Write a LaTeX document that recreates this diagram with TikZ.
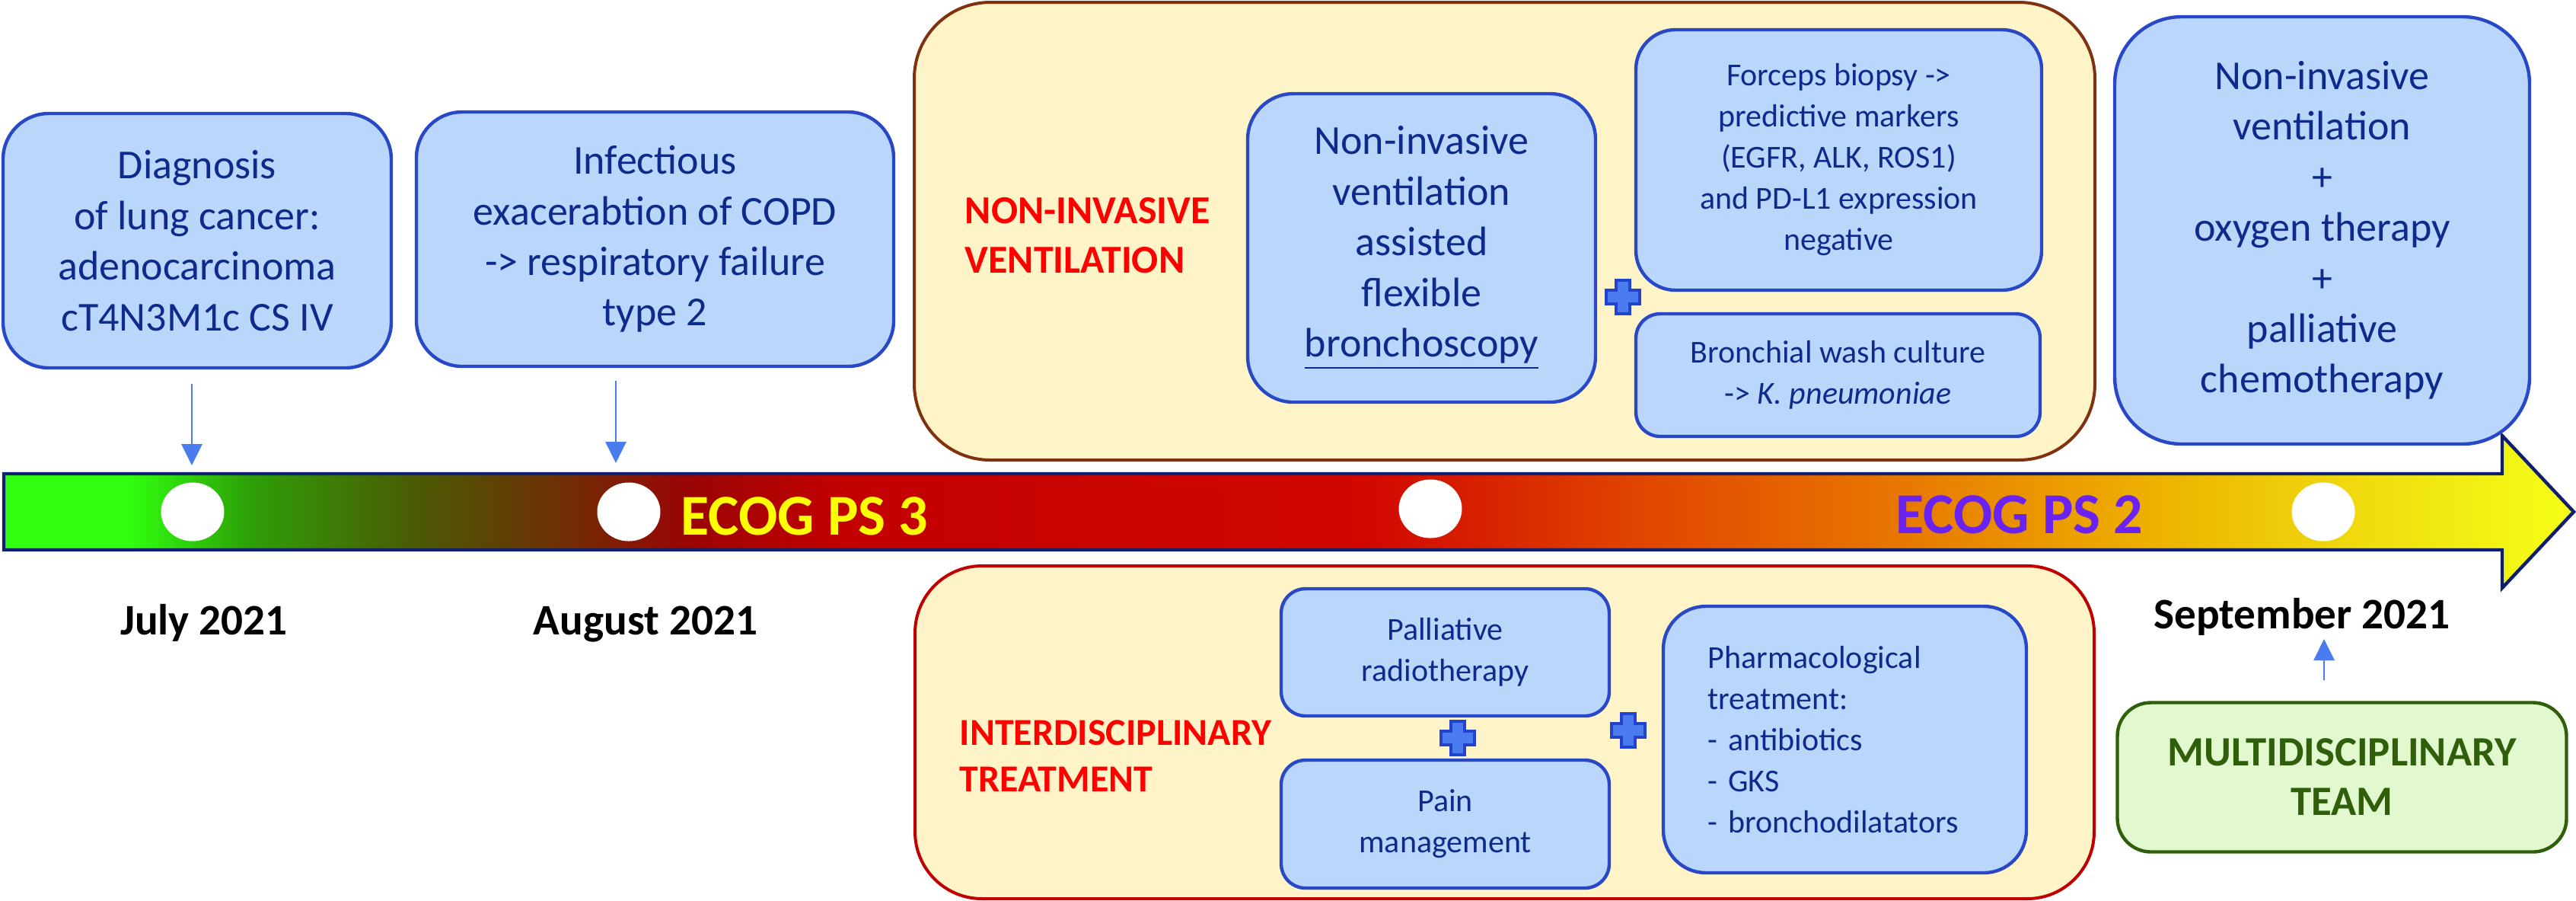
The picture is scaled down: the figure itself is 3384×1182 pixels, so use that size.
\documentclass[tikz,border=0pt]{standalone}
\usepackage{fontspec}
\setmainfont{Carlito}
\usetikzlibrary{arrows.meta,shapes.geometric}
\definecolor{boxfill}{HTML}{BAD6FA}
\definecolor{boxline}{HTML}{2848C8}
\definecolor{boxtext}{HTML}{0D2A8C}
\definecolor{beige}{HTML}{FFF4C8}
\definecolor{brownline}{HTML}{7F3210}
\definecolor{redline}{HTML}{C00000}
\definecolor{navy}{HTML}{0D1F6E}
\definecolor{arrowblue}{HTML}{4A7CF0}
\definecolor{plusline}{HTML}{2244CC}
\definecolor{mdtfill}{HTML}{E2F9CF}
\definecolor{mdtline}{HTML}{2F5F0A}
\definecolor{labred}{HTML}{FF0000}
\definecolor{ecogyellow}{HTML}{FFFF00}
\definecolor{ecogpurple}{HTML}{6A22F0}
\pgfdeclarehorizontalshading{tlshade}{100bp}{%
rgb(0bp)=(0.19,1,0.06);
rgb(25bp)=(0.19,1,0.06);
rgb(27.44bp)=(0.19,1,0.06);
rgb(29.81bp)=(0.18,0.62,0.03);
rgb(33.07bp)=(0.30,0.35,0.02);
rgb(35.59bp)=(0.42,0.20,0.02);
rgb(38.26bp)=(0.60,0.02,0.02);
rgb(41.22bp)=(0.76,0,0);
rgb(51.58bp)=(0.82,0.03,0);
rgb(56.77bp)=(0.88,0.27,0);
rgb(61.95bp)=(0.91,0.47,0);
rgb(67.13bp)=(0.93,0.71,0);
rgb(70.84bp)=(0.94,0.86,0.06);
rgb(75bp)=(0.96,1,0.09);
rgb(100bp)=(0.96,1,0.09)}
\tikzset{
  bluebox/.style={draw=boxline, line width=1.1pt, fill=boxfill, text=boxtext, align=center, inner sep=0pt},
  bigtext/.style={font=\fontsize{13.5}{16.6}\selectfont},
  smalltext/.style={font=\fontsize{10.5}{13.5}\selectfont},
  panel/.style={fill=beige, line width=1pt, inner sep=0pt},
  redlabel/.style={text=labred, font=\bfseries\fontsize{13}{16.25}\selectfont, align=left, anchor=west, inner sep=0pt},
  datelabel/.style={font=\bfseries\fontsize{14.3}{17}\selectfont, anchor=base, inner sep=0pt},
  ecoglabel/.style={font=\bfseries\fontsize{19}{22}\selectfont, anchor=base, inner sep=0pt},
  dot/.style={ellipse, fill=white, minimum width=20.75pt, minimum height=19.25pt, inner sep=0pt},
  conn/.style={draw=arrowblue, line width=0.7pt, -{Triangle[width=6.75pt,length=7pt]}},
  plusmark/.pic={\path[fill=arrowblue, draw=plusline, line width=1pt]
     (-9,-22) -- (9,-22) -- (9,-9) -- (22,-9) -- (22,9) -- (9,9) -- (9,22)
     -- (-9,22) -- (-9,9) -- (-22,9) -- (-22,-9) -- (-9,-9) -- cycle;}
}
\begin{document}
\begin{tikzpicture}[x=0.25pt,y=-0.25pt]
\useasboundingbox (0,0) rectangle (3384,1182);
\fill[white] (0,0) rectangle (3384,1182);

% timeline arrow
\path[shade, shading=tlshade, draw=navy, line width=1.1pt, line join=miter]
  (5,622) -- (3287,622) -- (3287,572) -- (3381,672) -- (3287,772) -- (3287,722) -- (5,722) -- cycle;

% panels
\node[panel, draw=brownline, rounded corners=25pt, minimum width=387.75pt, minimum height=150.25pt] (nivpanel) at (1976.5,303.5) {};
\node[panel, draw=redline, rounded corners=22pt, minimum width=387.25pt, minimum height=109.25pt] (intpanel) at (1976.5,961.5) {};

% top-left boxes
\node[bluebox, bigtext, rounded corners=15pt, minimum width=127.5pt, minimum height=83.5pt] (diag) at (259,316)
  {Diagnosis\\ of lung cancer:\\ adenocarcinoma\\ cT4N3M1c CS IV};
\node[bluebox, bigtext, rounded corners=15pt, minimum width=156.75pt, minimum height=83.5pt] (infect) at (860.5,314)
  {Infectious\\ exacerabtion of COPD\\ -> respiratory failure\\ type 2};

% NIV panel content
\node[redlabel] (nivlab) at (1267,309.5) {NON-INVASIVE\\VENTILATION};
\node[bluebox, bigtext, rounded corners=15pt, minimum width=114.25pt, minimum height=101.25pt] (nivb) at (1867.5,325.5)
  {Non-invasive\\ ventilation\\ assisted\\ flexible\\ \underline{bronchoscopy}};
\node[bluebox, smalltext, rounded corners=13pt, minimum width=133.25pt, minimum height=85.5pt] (forceps) at (2415.5,210)
  {Forceps biopsy ->\\ predictive markers\\ (EGFR, ALK, ROS1)\\ and PD-L1 expression\\ negative};
\node[bluebox, smalltext, rounded corners=8pt, minimum width=132.75pt, minimum height=40.25pt] (wash) at (2414.5,492.5)
  {Bronchial wash culture\\ -> \textit{K. pneumoniae}};
\pic at (2132,390) {plusmark};

% right top box
\node[bluebox, bigtext, rounded corners=22pt, minimum width=136.25pt, minimum height=140.25pt] (therapy) at (3050.5,302.5)
  {Non-invasive\\ ventilation\\ +\\ oxygen therapy\\ +\\ palliative\\ chemotherapy};

% interdisciplinary panel content
\node[redlabel, font=\bfseries\fontsize{12.5}{15.25}\selectfont] (intlab) at (1260,992.5) {INTERDISCIPLINARY\\TREATMENT};
\node[bluebox, smalltext, rounded corners=8pt, minimum width=107.75pt, minimum height=41.75pt] (radio) at (1898.5,856.5)
  {Palliative\\ radiotherapy};
\node[bluebox, smalltext, rounded corners=8pt, minimum width=107.75pt, minimum height=42pt] (pain) at (1898.5,1082)
  {Pain\\ management};
\node[bluebox, smalltext, align=left, text width=90pt, rounded corners=14pt, minimum width=119.25pt, minimum height=87.5pt] (pharm) at (2423.5,971)
  {Pharmacological\\ treatment:\\ - antibiotics\\ - GKS\\ - bronchodilatators};
\pic at (1915,969) {plusmark};
\pic at (2139,959) {plusmark};

% multidisciplinary team
\node[draw=mdtline, line width=1.1pt, fill=mdtfill, text=mdtline, align=center, inner sep=0pt,
  rounded corners=11pt, minimum width=147.5pt, minimum height=49pt,
  font=\bfseries\fontsize{13.7}{16.25}\selectfont] (mdt) at (3076.5,1020.5) {MULTIDISCIPLINARY\\ TEAM};

% ellipses on timeline
\node[dot] (e1) at (253,672) {};
\node[dot] (e2) at (826,672) {};
\node[dot] (e3) at (1879,668) {};
\node[dot] (e4) at (3052,672) {};

% ECOG labels
\node[ecoglabel, text=ecogyellow] (ecog3) at (1057,702) {ECOG PS 3};
\node[ecoglabel, text=ecogpurple] (ecog2) at (2653,700) {ECOG PS 2};

% dates
\node[datelabel] (jul) at (268,833) {July 2021};
\node[datelabel] (aug) at (848,833) {August 2021};
\node[datelabel] (sep) at (3024,825) {September 2021};

% connectors
\coordinate (t1) at (252,611);
\coordinate (t2) at (809,608);
\coordinate (t3) at (3053,839);
\draw[conn, shorten <=4.75pt] (diag.south -| t1) -- (t1);
\draw[conn, shorten <=4.25pt] (infect.south -| t2) -- (t2);
\draw[conn, shorten <=6.75pt] (mdt.north -| t3) -- (t3);
\end{tikzpicture}
\end{document}
